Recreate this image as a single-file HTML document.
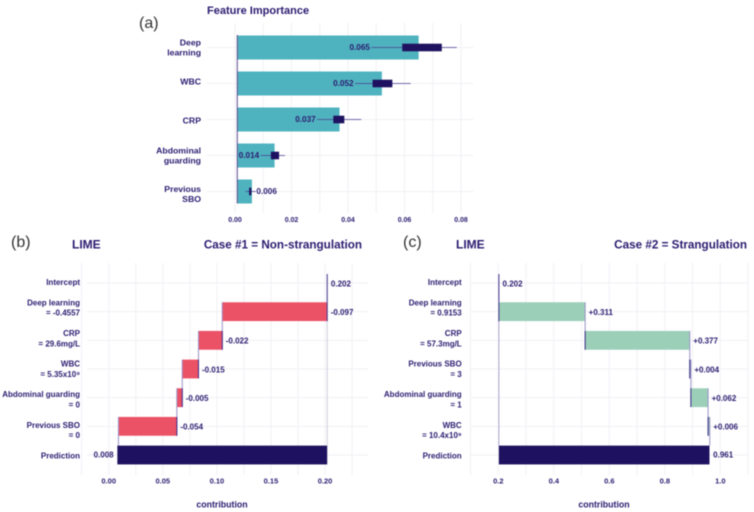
<!DOCTYPE html>
<html lang="en">
<head>
<meta charset="utf-8">
<title>Feature Importance and LIME</title>
<style>
html,body{margin:0;padding:0;background:#fff;}
svg{display:block;filter:blur(0.4px);}
text{font-family:"Liberation Sans",sans-serif;fill:#2b1b70;}
.b{font-weight:bold;}
</style>
</head>
<body>
<svg id="chart" xmlns="http://www.w3.org/2000/svg" width="754" height="512" viewBox="0 0 754 512">
  <rect width="754" height="512" fill="#ffffff"/>
  <text x="139" y="28" font-size="16" style="fill:#333">(a)</text>
  <text x="11" y="247" font-size="16" style="fill:#333">(b)</text>
  <text x="403" y="247" font-size="16" style="fill:#333">(c)</text>
  <text class="b" x="207" y="14" font-size="11">Feature Importance</text>
  <text class="b" x="72" y="248.5" font-size="12">LIME</text>
  <text class="b" x="362" y="248.5" font-size="11.7" text-anchor="end">Case #1 = Non-strangulation</text>
  <text class="b" x="456" y="248.5" font-size="12">LIME</text>
  <text class="b" x="747" y="248.5" font-size="11.7" text-anchor="end">Case #2 = Strangulation</text>
  <text class="b" x="222" y="507.5" font-size="8.8" text-anchor="middle">contribution</text>
  <text class="b" x="604" y="507.5" font-size="8.8" text-anchor="middle">contribution</text>
</svg>
<script>
// Panel (a): feature importance
const importanceFeatures = [["Deep", "learning"], ["WBC"], ["CRP"], ["Abdominal", "guarding"], ["Previous", "SBO"]];
const importanceValues = [0.065, 0.052, 0.037, 0.014, 0.006];
const importanceLabels = ["0.065", "0.052", "0.037", "0.014", "0.006"];
const importanceBoxLow = [0.0592, 0.0487, 0.0348, 0.0127, 0.005];
const importanceBoxHigh = [0.0732, 0.0557, 0.0387, 0.0156, 0.0058];
const importanceWhiskerLow = [0.0483, 0.0425, 0.0291, 0.0091, 0.0037];
const importanceWhiskerHigh = [0.0785, 0.0622, 0.0447, 0.0177, 0.0074];
const importanceLabelSide = ["left", "left", "left", "left", "right"];
const importanceTicks = [0, 0.02, 0.04, 0.06, 0.08];
const importanceTickLabels = ["0.00", "0.02", "0.04", "0.06", "0.08"];
const importanceMinorTicks = [0.01, 0.03, 0.05, 0.07];
const importanceBaseline = 0.0008;

// Panel (b): LIME case 1
const case1Features = [["Intercept"], ["Deep learning", "= -0.4557"], ["CRP", "= 29.6mg/L"], ["WBC", "= 5.35x10⁹"], ["Abdominal guarding", "= 0"], ["Previous SBO", "= 0"], ["Prediction"]];
const case1Intercept = 0.202;
const case1Contributions = [-0.097, -0.022, -0.015, -0.005, -0.054];
const case1Prediction = 0.008;
const case1Labels = ["0.202", "-0.097", "-0.022", "-0.015", "-0.005", "-0.054", "0.008"];
const case1Ticks = [0, 0.05, 0.10, 0.15, 0.20];
const case1TickLabels = ["0.00", "0.05", "0.10", "0.15", "0.20"];
const case1MinorTicks = [-0.025, 0.025, 0.075, 0.125, 0.175, 0.225];

// Panel (c): LIME case 2
const case2Features = [["Intercept"], ["Deep learning", "= 0.9153"], ["CRP", "= 57.3mg/L"], ["Previous SBO", "= 3"], ["Abdominal guarding", "= 1"], ["WBC", "= 10.4x10⁹"], ["Prediction"]];
const case2Intercept = 0.202;
const case2Contributions = [0.311, 0.377, 0.004, 0.062, 0.006];
const case2Prediction = 0.961;
const case2Labels = ["0.202", "+0.311", "+0.377", "+0.004", "+0.062", "+0.006", "0.961"];
const case2Ticks = [0.2, 0.4, 0.6, 0.8, 1.0];
const case2TickLabels = ["0.2", "0.4", "0.6", "0.8", "1.0"];
const case2MinorTicks = [0.1, 0.3, 0.5, 0.7, 0.9, 1.1];

const svg = document.getElementById('chart');
const NS = 'http://www.w3.org/2000/svg';
const GRID = '#f1f0f5';
const NAVY = '#1e1160';
const EDGE = '#3d2f8a';
const LIGHT = '#9a91c6';

function make(tag, attrs, parent) {
  const el = document.createElementNS(NS, tag);
  for (const k in attrs) el.setAttribute(k, attrs[k]);
  (parent || svg).appendChild(el);
  return el;
}
function line(x1, y1, x2, y2, stroke, width, parent) {
  return make('line', {x1: x1, y1: y1, x2: x2, y2: y2, stroke: stroke, 'stroke-width': width}, parent);
}
function label(x, y, str, size, anchor, bold, parent) {
  const t = make('text', {x: x, y: y, 'font-size': size, 'text-anchor': anchor, 'dominant-baseline': 'central'}, parent);
  if (bold) t.setAttribute('class', 'b');
  t.textContent = str;
  return t;
}
function rowLabel(x, cy, lines, size, gap, parent) {
  const top = cy - (lines.length - 1) * gap / 2;
  lines.forEach(function (s, i) {
    const t = label(x, top + i * gap, s, size, 'end', true, parent);
    
    
  });
}

// ----- Panel (a) -----
(function () {
  const g = make('g', {});
  
  
  const xScale = function (v) { return 235 + v * 2825; };
  const yScale = function (i) { return 47.5 + i * 36; };
  const labelNudge = function (i) { return i === 1 ? -2 : i === 2 ? 1 : i === 4 ? 2.6 : 0.2; };
  const H = 24;
  importanceMinorTicks.concat(importanceTicks).forEach(function (t) {
    const gl = line(xScale(t), 23, xScale(t), 213, GRID, 1, g);
    
    
  });
  importanceValues.forEach(function (v, i) {
    const cy = yScale(i);
    const gl = line(207, cy, 473, cy, GRID, 1, g);
    
    
  });
  importanceValues.forEach(function (v, i) {
    const cy = yScale(i);
    const x0 = xScale(importanceBaseline);
    const bar = make('rect', {x: x0, y: cy - H / 2, width: xScale(v) - x0, height: H, fill: '#4fb3bf'}, g);
    
    
    const wh = line(xScale(importanceWhiskerLow[i]), cy, xScale(importanceWhiskerHigh[i]), cy, '#4a3c90', 0.8, g);
    
    
    const xl = xScale(importanceBoxLow[i]);
    const box = make('rect', {x: xl, y: cy - 3.8, width: xScale(importanceBoxHigh[i]) - xl, height: 7.6, fill: NAVY}, g);
    
    
    const right = importanceLabelSide[i] === 'right';
    const lx = right ? xScale(importanceWhiskerHigh[i]) + 0.5 : xScale(importanceWhiskerLow[i]) - 1.5;
    const vt = label(lx, cy, importanceLabels[i], 8.2, right ? 'start' : 'end', true, g);
    
    
    rowLabel(201, cy + labelNudge(i), importanceFeatures[i], 8.7, 10, g);
  });
  const ax = line(xScale(importanceBaseline), 35, xScale(importanceBaseline), 203.5, '#5c4a90', 1, g);
  
  
  importanceTicks.forEach(function (t, i) {
    const tl = label(xScale(t), 220.5, importanceTickLabels[i], 7, 'middle', true, g);
    
    
  });
})();

// ----- Waterfall panels -----
function waterfall(cfg) {
  const g = make('g', {});
  
  
  const xScale = function (v) { return cfg.x0 + (v - cfg.v0) * cfg.k; };
  const yScale = function (i) { return 283 + i * 28.67; };
  // The category labels sit on a slightly different rhythm from the bars.
  const labelY = function (i, last) {
    if (i === 0) return 282.3;
    if (i === last) return 456;
    return 308 + (i - 1) * 30.6;
  };
  const H = 18.8;
  const last = cfg.features.length - 1;
  cfg.minor.concat(cfg.ticks).forEach(function (t) {
    const gl = line(xScale(t), 263, xScale(t), 475, GRID, 1, g);
    
    
  });
  cfg.features.forEach(function (f, i) {
    const gl = line(cfg.gridL, yScale(i), cfg.gridR, yScale(i), GRID, 1, g);
    
    
    rowLabel(cfg.labelX, labelY(i, last), f, 8, 10.3, g);
  });
  const xI = xScale(cfg.intercept);
  const xP = xScale(cfg.prediction);
  const dotted = line(xI, yScale(1) + H / 2, xI, yScale(last) - H / 2, cfg.dotColor, 0.8, g);
  dotted.setAttribute('stroke-dasharray', '1 1');
  
  
  const il = line(xI, 274, xI, yScale(1) - H / 2, EDGE, 1, g);
  
  
  const it = label(xI + 3.7, yScale(0) + 0.8, cfg.labels[0], 8, 'start', true, g);
  
  

  let cum = cfg.intercept;
  cfg.contributions.forEach(function (c, j) {
    const i = j + 1;
    const cy = yScale(i);
    const xa = xScale(cum);
    const next = cum + c;
    const xb = xScale(next);
    const bar = make('rect', {x: Math.min(xa, xb), y: cy - H / 2, width: Math.abs(xb - xa), height: H, fill: cfg.color}, g);
    
    
    const conn = line(xb, cy - H / 2, xb, yScale(i + 1) + (i === last - 1 ? -H / 2 : H / 2), LIGHT, 1, g);
    
    
    const edge = line(xa, cy - H / 2, xa, cy + H / 2, EDGE, 1, g);
    
    
    const vt = label(Math.max(xa, xb) + 3.5, cy + 0.8, cfg.labels[i], 8, 'start', true, g);
    
    
    cum = next;
  });
  const cy = yScale(last);
  const pa = Math.min(xI, xP), pb = Math.max(xI, xP);
  const pbar = make('rect', {x: pa, y: cy - H / 2, width: pb - pa, height: H, fill: NAVY}, g);
  
  
  const pt = cfg.predLeft
    ? label(pa - 3.7, cy, cfg.labels[last], 8, 'end', true, g)
    : label(pb + 3.7, cy, cfg.labels[last], 8, 'start', true, g);
  
  
  cfg.ticks.forEach(function (t, i) {
    const tl = label(xScale(t), 481, cfg.tickLabels[i], 7.5, 'middle', true, g);
    
    
  });
}

waterfall({
  name: 'lime-case-1-panel', features: case1Features, intercept: case1Intercept,
  contributions: case1Contributions, prediction: case1Prediction, labels: case1Labels,
  ticks: case1Ticks, tickLabels: case1TickLabels, minor: case1MinorTicks,
  x0: 108.7, v0: 0, k: 1081.7, gridL: 87, gridR: 368, labelX: 80,
  color: '#ec5266', dotColor: '#8a84a8', predLeft: true
});
waterfall({
  name: 'lime-case-2-panel', features: case2Features, intercept: case2Intercept,
  contributions: case2Contributions, prediction: case2Prediction, labels: case2Labels,
  ticks: case2Ticks, tickLabels: case2TickLabels, minor: case2MinorTicks,
  x0: 498.3, v0: 0.2, k: 277.5, gridL: 470.7, gridR: 748, labelX: 461.7,
  color: '#9bcfb8', dotColor: '#3d2f8a', predLeft: false
});
</script>
</body>
</html>
